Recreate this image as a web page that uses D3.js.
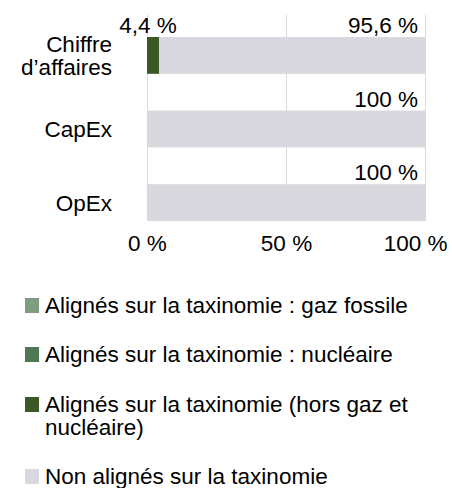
<!DOCTYPE html>
<html>
<head>
<meta charset="utf-8">
<script src="https://cdn.jsdelivr.net/npm/d3@7"></script>
<style>
  body { margin: 0; background: #fff; }
  text { font-family: "Liberation Sans", Arial, sans-serif; fill: #000; }
</style>
</head>
<body>
<div id="chart"></div>
<script>
var width = 452, height = 488;

/* data */
var categories = ["Chiffre d’affaires", "CapEx", "OpEx"];
var categoryLines = [["Chiffre", "d’affaires"], ["CapEx"], ["OpEx"]];
var gazFossile = [0, 0, 0];
var nucleaire = [0, 0, 0];
var alignes = [4.4, 0, 0];
var nonAlignes = [95.6, 100, 100];
var valueLabels = [["", "", "4,4 %", "95,6 %"], ["", "", "", "100 %"], ["", "", "", "100 %"]];
var tickValues = [0, 50, 100];
var tickLabels = ["0 %", "50 %", "100 %"];
var seriesNames = [
  "Alignés sur la taxinomie : gaz fossile",
  "Alignés sur la taxinomie : nucléaire",
  "Alignés sur la taxinomie (hors gaz et nucléaire)",
  "Non alignés sur la taxinomie"
];
var legendLines = [
  ["Alignés sur la taxinomie : gaz fossile"],
  ["Alignés sur la taxinomie : nucléaire"],
  ["Alignés sur la taxinomie (hors gaz et", "nucléaire)"],
  ["Non alignés sur la taxinomie"]
];
var colors = ["#7f9d80", "#4e7753", "#3c5827", "#d8d8de"];

var series = [gazFossile, nucleaire, alignes, nonAlignes];
var fontSize = 22.5;

var svg = d3.select('#chart').append('svg')
    .attr('width', width)
    .attr('height', height);

var x = d3.scaleLinear().domain([0, 100]).range([147, 425]);
var y = d3.scaleBand().domain(categories).range([37, 221]).paddingInner(0.5).paddingOuter(0);

// gridlines
svg.append('g').selectAll('line')
    .data(tickValues)
    .join('line')
    .attr('x1', function(d){ return x(d) + 0.5 })
    .attr('x2', function(d){ return x(d) + 0.5 })
    .attr('y1', 15)
    .attr('y2', 221)
    .attr('stroke', '#d9d9df')
    .attr('stroke-width', 1);

// stacked segments
var rows = categories.map(function(c, i){
    var start = 0;
    return series.map(function(s, k){
        var seg = { cat: c, k: k, x0: start, x1: start + s[i], label: valueLabels[i][k] };
        start += s[i];
        return seg;
    });
});
var segs = [].concat.apply([], rows).filter(function(d){ return d.x1 > d.x0 });

svg.append('g').selectAll('rect')
    .data(segs)
    .join('rect')
    .attr('x', function(d){ return x(d.x0) })
    .attr('width', function(d){ return x(d.x1) - x(d.x0) })
    .attr('y', function(d){ return y(d.cat) })
    .attr('height', y.bandwidth())
    .attr('fill', function(d){ return colors[d.k] });

// value labels above bars
svg.append('g').selectAll('text')
    .data(segs.filter(function(d){ return d.label }))
    .join('text')
    .attr('font-size', fontSize)
    .attr('y', function(d){ return y(d.cat) - 4 })
    .attr('x', function(d){
        var w = x(d.x1) - x(d.x0);
        return w < 40 ? x(d.x0) + 1 : x(d.x1) - 7;
    })
    .attr('text-anchor', function(d){ return (x(d.x1) - x(d.x0)) < 40 ? 'middle' : 'end' })
    .text(function(d){ return d.label });

// category labels
var catG = svg.append('g').selectAll('text')
    .data(categories)
    .join('text')
    .attr('font-size', fontSize)
    .attr('text-anchor', 'end')
    .attr('x', 112)
    .attr('y', function(d){ return y(d) + y.bandwidth() / 2 });
catG.each(function(d, i){
    var lines = categoryLines[i];
    var t = d3.select(this);
    lines.forEach(function(l, j){
        t.append('tspan')
            .attr('x', 112)
            .attr('dy', j === 0 ? (0.36 - (lines.length - 1) * 0.52) + 'em' : '1.04em')
            .text(l);
    });
});

// x axis
var axis = svg.append('g')
    .attr('transform', 'translate(0,221)')
    .call(d3.axisBottom(x).tickValues(tickValues).tickSize(0).tickPadding(14)
        .tickFormat(function(d, i){ return tickLabels[i] }));
axis.select('.domain').remove();
axis.selectAll('text')
    .attr('font-size', fontSize)
    .attr('font-family', '"Liberation Sans", Arial, sans-serif')
    .attr('fill', '#000');
// last label would run past the right edge: pin it to the edge instead
axis.selectAll('.tick').filter(function(d, i){ return i === tickValues.length - 1 })
    .select('text')
    .attr('text-anchor', 'end')
    .attr('x', function(d){ return (width - 5) - x(d) });

// legend
var legendY = [313, 362, 412, 484];
var leg = svg.append('g').selectAll('g')
    .data(seriesNames)
    .join('g')
    .attr('transform', function(d, i){ return 'translate(25,' + legendY[i] + ')' });
leg.append('rect')
    .attr('x', 0)
    .attr('y', -15)
    .attr('width', 14)
    .attr('height', 15)
    .attr('fill', function(d, i){ return colors[i] });
leg.append('text')
    .attr('font-size', fontSize)
    .attr('x', 20)
    .each(function(d, i){
        var t = d3.select(this);
        legendLines[i].forEach(function(l, j){
            t.append('tspan')
                .attr('x', 20)
                .attr('dy', j === 0 ? 0 : 23)
                .text(l);
        });
    });
</script>
</body>
</html>
